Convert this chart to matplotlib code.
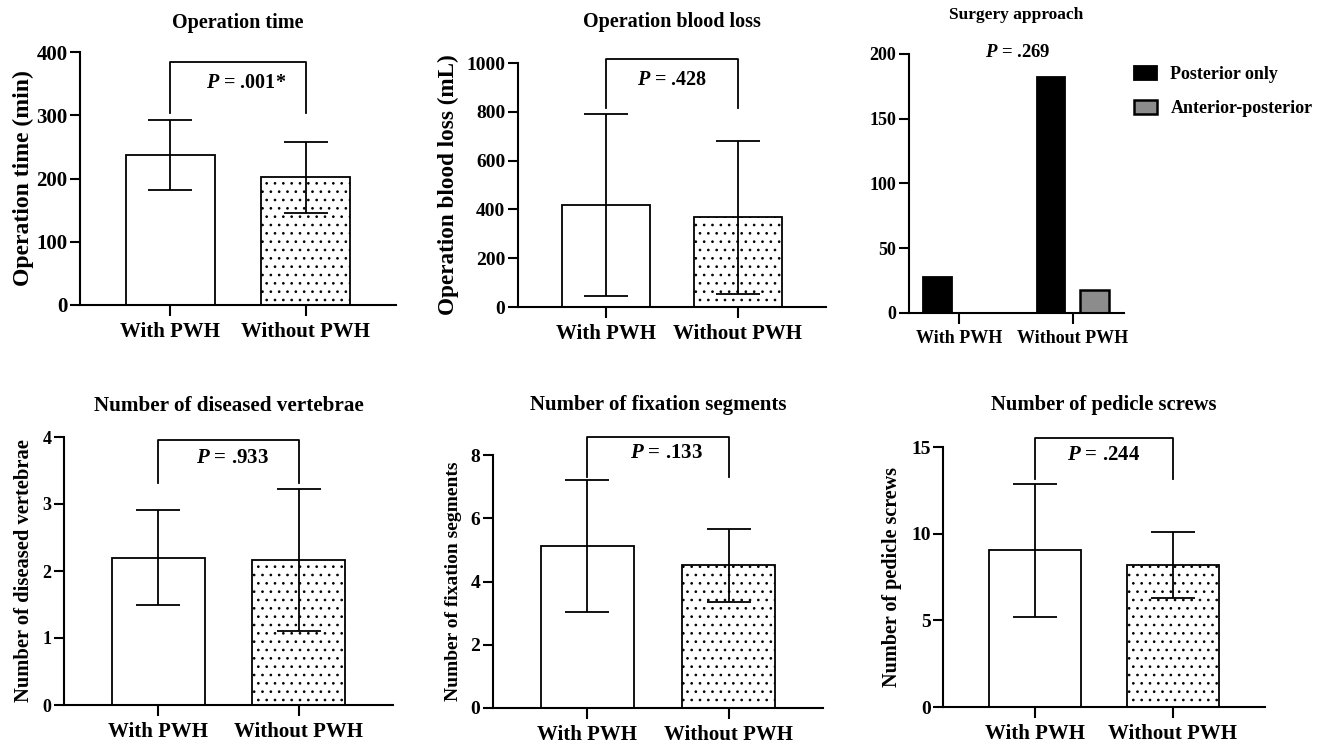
import matplotlib.pyplot as plt
import numpy as np

plt.rcParams['font.family'] = 'Liberation Serif'
plt.rcParams['font.weight'] = 'bold'
plt.rcParams['mathtext.fontset'] = 'custom'
plt.rcParams['mathtext.it'] = 'Liberation Serif:italic:bold'
plt.rcParams['mathtext.rm'] = 'Liberation Serif:bold'
plt.rcParams['hatch.linewidth'] = 0.7

# data
groups = ["With PWH", "Without PWH"]

op_time_mean = [237, 202]
op_time_sd = [55, 56]

blood_loss_mean = [418, 368]
blood_loss_sd = [373, 313]

posterior_only = [28, 182]
anterior_posterior = [0, 18]

vertebrae_mean = [2.2, 2.17]
vertebrae_sd = [0.71, 1.06]

fixation_mean = [5.12, 4.51]
fixation_sd = [2.09, 1.15]

screws_mean = [9.03, 8.18]
screws_sd = [3.86, 1.9]

W, H = 1321, 744
fig = plt.figure(figsize=(W / 100, H / 100), dpi=100)


def add_axes(left, right, y0, ytop):
    # pixel box -> figure fraction
    return fig.add_axes([left / W, 1 - y0 / H, (right - left) / W, (y0 - ytop) / H])


def style_axes(ax, tick_fs, xtick_fs):
    for s in ["top", "right"]:
        ax.spines[s].set_visible(False)
    for s in ["left", "bottom"]:
        ax.spines[s].set_linewidth(1.5)
    ax.tick_params(axis="y", width=1.5, length=7, labelsize=tick_fs, pad=2)
    ax.tick_params(axis="x", width=1.5, length=8, labelsize=xtick_fs, pad=4)
    ax.set_xticks(np.arange(len(groups)), labels=groups)


def sd_panel(box, means, sds, ymax, yticks, title, ylabel, ptext, bracket,
             title_y, ylabel_x, fs):
    ax = add_axes(*box)
    x = np.arange(len(groups))
    ax.bar(x[0], means[0], width=0.66, facecolor="white", edgecolor="black", linewidth=1.3, zorder=2)
    ax.bar(x[1], means[1], width=0.66, facecolor="white", edgecolor="black", linewidth=1.3,
           hatch="..", zorder=2)
    ax.errorbar(x, means, yerr=sds, fmt="none", ecolor="black", elinewidth=1.3,
                capsize=16, capthick=1.3, zorder=3)
    ax.set_xlim(-0.667, 1.667)
    ax.set_ylim(0, ymax)
    ax.set_yticks(yticks)
    style_axes(ax, fs["tick"], fs["xtick"])

    leg, top, ty, tx = bracket
    ax.plot([0, 0, 1, 1], [leg, top, top, leg], color="black", lw=1.3, clip_on=False)
    ax.text(tx, ty, ptext, ha="center", va="center", fontsize=fs["p"], fontweight="bold")

    left, right, y0, ytop = box
    fig.text((left + right) / 2 / W, 1 - title_y / H, title, ha="center", va="center",
             fontsize=fs["title"], fontweight="bold")
    ax.set_ylabel(ylabel, fontsize=fs["ylabel"], fontweight="bold")
    ax.yaxis.set_label_coords((ylabel_x - left) / (right - left), 0.5)
    return ax


# Operation time
sd_panel((80, 396, 305, 52), op_time_mean, op_time_sd, 400, [0, 100, 200, 300, 400],
         "Operation time", "Operation time (min)", r"$P$ = .001*", (304, 384, 351, 0.56),
         23, 34, dict(tick=15, xtick=15, ylabel=17, title=14.5, p=14.5))

# Operation blood loss
sd_panel((518, 826, 307, 63), blood_loss_mean, blood_loss_sd, 1000, [0, 200, 400, 600, 800, 1000],
         "Operation blood loss", "Operation blood loss (mL)", r"$P$ = .428", (815, 1016, 930, 0.5),
         22, 459, dict(tick=14, xtick=15, ylabel=16.7, title=14.5, p=14.5))

# Surgery approach
box = (909, 1124, 313, 54)
ax = add_axes(*box)
x = np.arange(len(groups))
off = 0.19
ax.bar(x - off, posterior_only, width=0.25, color="black", edgecolor="black", linewidth=1.3,
       label="Posterior only", zorder=2)
ax.bar(x + off, anterior_posterior, width=0.25, color="#8c8c8c", edgecolor="black", linewidth=1.8,
       label="Anterior-posterior", zorder=2)
ax.set_xlim(-0.44, 1.45)
ax.set_ylim(0, 200)
ax.set_yticks([0, 50, 100, 150, 200])
style_axes(ax, 13, 13)
ax.text(0.52, 201.5, r"$P$ = .269", ha="center", va="center", fontsize=13.5,
        fontweight="bold", clip_on=False)
fig.text((box[0] + box[1]) / 2 / W, 1 - 15 / H, "Surgery approach", ha="center", va="center",
         fontsize=12.5, fontweight="bold")
ax.legend(loc="upper left", bbox_to_anchor=(1118 / W, 1 - 50 / H), bbox_transform=fig.transFigure,
          frameon=False, fontsize=13, handlelength=1.25, handleheight=0.75, handletextpad=0.75,
          labelspacing=0.95)

# Number of diseased vertebrae
sd_panel((64, 393, 705, 437), vertebrae_mean, vertebrae_sd, 4, [0, 1, 2, 3, 4],
         "Number of diseased vertebrae", "Number of diseased vertebrae", r"$P$ = .933",
         (3.31, 3.96, 3.69, 0.53), 406, 34, dict(tick=13, xtick=15, ylabel=14.8, title=15.2, p=15))

# Number of fixation segments
sd_panel((493, 823, 708, 455), fixation_mean, fixation_sd, 8, [0, 2, 4, 6, 8],
         "Number of fixation segments", "Number of fixation segments", r"$P$ = .133",
         (7.29, 8.58, 8.05, 0.56), 405, 462, dict(tick=14, xtick=15, ylabel=14, title=15, p=15))

# Number of pedicle screws
sd_panel((943, 1265, 707, 447), screws_mean, screws_sd, 15, [0, 5, 10, 15],
         "Number of pedicle screws", "Number of pedicle screws", r"$P$ = .244",
         (13.15, 15.52, 14.56, 0.5), 405, 902, dict(tick=14, xtick=15, ylabel=14.5, title=14.9, p=15))

plt.savefig("out.png", dpi=100)
